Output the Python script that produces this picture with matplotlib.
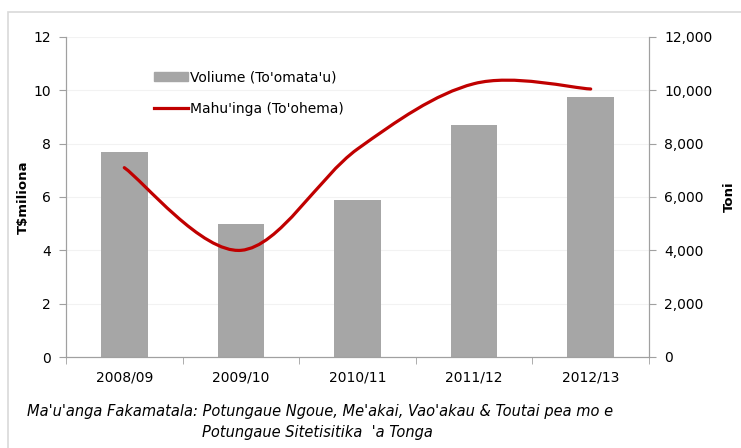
import matplotlib.pyplot as plt
import matplotlib.patches as mpatches
from matplotlib.path import Path
import numpy as np

plt.rcParams['font.family'] = ['DejaVu Sans']

years = ["2008/09", "2009/10", "2010/11", "2011/12", "2012/13"]
volume_tonnes = [7700, 5000, 5900, 8700, 9750]      # bars, right axis (Toni)
value_millions = [7.1, 4.0, 7.8, 10.25, 10.05]      # line, left axis (T$miliona)

bar_color = "#A6A6A6"
line_color = "#C00000"
axis_gray = "#A0A0A0"


def smooth_path(xs, ys):
    # Excel-style smoothed line: cubic bezier through every point
    pts = np.column_stack([xs, ys]).astype(float)
    verts = [pts[0]]
    codes = [Path.MOVETO]
    n = len(pts)
    for i in range(n - 1):
        p0 = pts[i - 1] if i > 0 else pts[i]
        p1 = pts[i]
        p2 = pts[i + 1]
        p3 = pts[i + 2] if i + 2 < n else pts[i + 1]
        c1 = p1 + (p2 - p0) / 6.0
        c2 = p2 - (p3 - p1) / 6.0
        verts += [c1, c2, p2]
        codes += [Path.CURVE4] * 3
    return Path(verts, codes)


fig = plt.figure(figsize=(7.41, 4.48), dpi=100)

# light frame around the chart
frame = mpatches.Rectangle((8 / 741, -0.1), 1.1, 1 - 12 / 448 + 0.1, transform=fig.transFigure,
                           fill=False, edgecolor="#D9D9D9", linewidth=1.2)
fig.patches.append(frame)

ax = fig.add_axes([66 / 741, 1 - 357 / 448, 583 / 741, 320 / 448])
ax2 = ax.twinx()

x = np.arange(len(years))

ax2.bar(x, volume_tonnes, width=0.4, color=bar_color, zorder=2)
ax2.set_ylim(0, 12000)
ax2.set_yticks(range(0, 12001, 2000))
ax2.set_yticklabels([f"{v:,}" for v in range(0, 12001, 2000)])
ax2.grid(axis="y", color="#F2F2F2", linewidth=0.8)
ax2.set_axisbelow(True)

ax.set_ylim(0, 12)
ax.set_yticks(range(0, 13, 2))
ax.set_xlim(-0.5, len(years) - 0.5)
ax.set_xticks(x)
ax.set_xticklabels(years)
ax.set_xticks(np.arange(-0.5, len(years), 1.0), minor=True)
ax.tick_params(axis="x", which="major", length=0, pad=10, labelsize=10)
ax.tick_params(axis="x", which="minor", length=5, color=axis_gray)
ax.tick_params(axis="y", length=5, color=axis_gray, labelsize=10, pad=6)
ax2.tick_params(axis="y", length=5, color=axis_gray, labelsize=10, pad=6)

for a in (ax, ax2):
    a.spines["top"].set_visible(False)
    for s in ("left", "right", "bottom"):
        a.spines[s].set_color(axis_gray)

# line drawn on top of the bars
ax.set_zorder(ax2.get_zorder() + 1)
ax.patch.set_visible(False)
path = smooth_path(x, value_millions)
ax.add_patch(mpatches.PathPatch(path, facecolor="none", edgecolor=line_color,
                                linewidth=2.3, capstyle="round", zorder=3))

ax.set_ylabel("T$miliona", fontsize=9.5, fontweight="bold")
ax.yaxis.set_label_coords(-36 / 583, 0.5)
ax2.set_ylabel("Toni", fontsize=9.5, fontweight="bold")
ax2.yaxis.set_label_coords(1 + 74 / 583, 0.5)

# legend
handles = [mpatches.Patch(color=bar_color, label="Voliume (To'omata'u)"),
           plt.Line2D([], [], color=line_color, linewidth=2.3, label="Mahu'inga (To'ohema)")]
ax.legend(handles=handles, loc="upper left", bbox_to_anchor=(0.13, 0.935), frameon=False,
          fontsize=10, handlelength=2.4, handletextpad=0.2, labelspacing=1.3)

fig.text(27 / 741, 1 - 411 / 448,
         "Ma'u'anga Fakamatala: Potungaue Ngoue, Me'akai, Vao'akau & Toutai pea mo e",
         fontsize=10.5, style="italic", va="center")
fig.text(202 / 741, 1 - 432 / 448, "Potungaue Sitetisitika  'a Tonga",
         fontsize=10.5, style="italic", va="center")

fig.savefig("out.png", dpi=100)
